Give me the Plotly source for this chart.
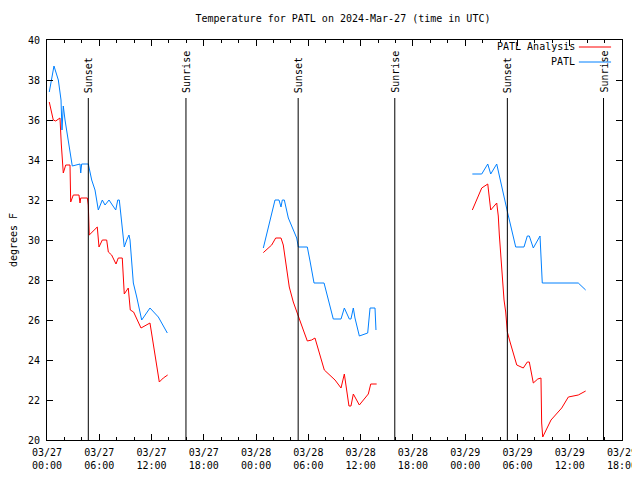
import pandas as pd
import plotly.graph_objects as go

BASE = pd.Timestamp("2024-03-27 00:00")

# Hours after 03/27 00:00 UTC and temperatures (°F); None separates gaps
analysis_hours = [0.26, 0.72, 1.0, 1.49, 1.64, 1.87, 2.15, 2.64, 2.72, 3.02, 3.67, 3.79, 3.87, 4.63, 4.74, 4.85,
                  5.77, 5.97, 6.35, 6.85, 7.04, 7.42, 7.92, 8.18, 8.64, 8.87, 9.33, 9.56, 9.94, 10.79, 11.82,
                  12.01, 12.58, 12.89, 13.35, 13.85,
                  None,
                  24.83, 25.79, 26.25, 26.86, 27.12, 27.43, 27.81, 28.27, 28.85, 29.42, 29.88, 30.38, 30.76,
                  31.14, 31.83, 33.06, 33.75, 34.13, 34.32, 34.66, 34.89, 35.16, 35.85, 36.88, 37.16, 37.84,
                  None,
                  48.82, 49.90, 50.59, 50.93, 51.62, 51.80, 51.92, 52.08, 52.26, 52.46, 52.65, 52.77, 52.84,
                  53.15, 53.53, 53.92, 54.67, 55.13, 55.36, 55.82, 56.33, 56.70, 56.78, 56.90, 57.85, 59.08,
                  59.84, 60.98, 61.83]
analysis_temps = [36.9, 36.0, 35.95, 36.1, 34.8, 33.35, 33.75, 33.75, 31.9, 32.25, 32.25, 31.85, 32.1, 32.1, 31.75, 30.25,
                  30.65, 29.65, 30.0, 30.0, 29.4, 29.25, 28.8, 29.1, 29.1, 27.3, 27.6, 26.5, 26.4, 25.6, 25.85,
                  25.35, 23.65, 22.9, 23.1, 23.25,
                  None,
                  29.37, 29.75, 30.1, 30.1, 29.75, 28.75, 27.65, 26.9, 26.15, 25.5, 24.95, 25.0, 25.1,
                  24.5, 23.5, 23.0, 22.6, 23.3, 22.8, 21.7, 21.7, 22.3, 21.75, 22.3, 22.8, 22.8,
                  None,
                  31.5, 32.6, 32.8, 31.5, 31.85, 31.2, 30.25, 29.2, 28.1, 27.0, 26.4, 25.8, 25.4,
                  24.9, 24.3, 23.75, 23.6, 23.9, 23.9, 22.85, 23.05, 23.1, 20.85, 20.15, 21.0, 21.6,
                  22.15, 22.25, 22.45]

obs_hours = [0.26, 0.80, 1.30, 1.61, 1.72, 1.87, 2.07, 2.64, 2.90, 3.79, 3.87, 3.98, 4.74, 5.13, 5.51, 5.89,
             6.08, 6.35, 6.66, 7.12, 7.50, 7.89, 8.12, 8.30, 8.46, 8.64, 8.87, 9.15, 9.41, 9.53, 9.72, 9.91,
             10.30, 10.56, 10.87, 11.82, 12.78, 13.81,
             None,
             24.83, 25.40, 26.17, 26.63, 26.86, 27.01, 27.24, 27.70, 28.09, 28.66, 28.85, 29.88, 30.19, 30.65,
             31.80, 32.22, 32.86, 33.75, 34.13, 34.70, 34.89, 35.16, 35.35, 35.85, 36.81, 37.08, 37.65, 37.76,
             None,
             48.82, 49.90, 50.59, 50.93, 51.62, 52.19, 52.88, 53.80, 54.75, 55.13, 55.36, 55.82, 56.59, 56.85,
             60.98, 61.83]
obs_temps = [37.4, 38.7, 38.0, 37.0, 35.5, 36.7, 36.0, 34.35, 33.7, 33.8, 33.35, 33.8, 33.8, 33.0, 32.5, 31.5,
             31.75, 32.0, 31.75, 32.0, 31.75, 31.5, 32.0, 32.0, 31.35, 30.5, 29.65, 30.0, 30.25, 30.0, 28.85, 27.85,
             27.15, 26.65, 26.0, 26.6, 26.15, 25.35,
             None,
             29.6, 30.65, 32.0, 32.0, 31.65, 32.0, 32.0, 31.1, 30.7, 30.1, 29.65, 29.65, 28.95, 27.85,
             27.85, 27.15, 26.05, 26.05, 26.6, 26.05, 26.05, 26.6, 26.1, 25.2, 25.35, 26.6, 26.6, 25.5,
             None,
             33.3, 33.3, 33.8, 33.3, 33.8, 32.65, 31.35, 29.65, 29.65, 30.2, 30.2, 29.6, 30.2, 27.85,
             27.85, 27.5]

event_hours = [4.74, 15.95, 28.83, 39.92, 52.84, 63.88]
event_labels = ["Sunset", "Sunrise", "Sunset", "Sunrise", "Sunset", "Sunrise"]
event_top = 37.1

series_names = ["PATL Analysis", "PATL"]
series_colors = ["#ff0000", "#0080ff"]

def to_time(hours):
    return [None if h is None else BASE + pd.Timedelta(hours=h) for h in hours]

FONT = "DejaVu Sans Mono"
FS = 10
fig = go.Figure()
fig.add_trace(go.Scatter(x=to_time(analysis_hours), y=analysis_temps, mode="lines",
                         line=dict(color=series_colors[0], width=1), name=series_names[0],
                         connectgaps=False, showlegend=False))
fig.add_trace(go.Scatter(x=to_time(obs_hours), y=obs_temps, mode="lines",
                         line=dict(color=series_colors[1], width=1), name=series_names[1],
                         connectgaps=False, showlegend=False))

for h, lab in zip(event_hours, event_labels):
    t = BASE + pd.Timedelta(hours=h)
    fig.add_shape(type="line", xref="x", yref="y", x0=t, x1=t, y0=20, y1=event_top,
                  line=dict(color="black", width=1))
    fig.add_annotation(x=t, y=event_top, xref="x", yref="y", text=lab, textangle=-90,
                       showarrow=False, xanchor="center", yanchor="bottom", yshift=3,
                       font=dict(family=FONT, size=FS, color="black"))

# custom legend (text right-aligned, sample to the right)
for i, (name, col) in enumerate(zip(series_names, series_colors)):
    yy = 0.9825 - i * 0.0375
    fig.add_annotation(x=0.921, y=yy, xref="paper", yref="paper", text=name, showarrow=False,
                       xanchor="right", yanchor="middle", font=dict(family=FONT, size=FS, color="black"))
    fig.add_shape(type="line", xref="paper", yref="paper", x0=0.925, x1=0.981, y0=yy, y1=yy,
                  line=dict(color=col, width=1))

# the page body adds an 8px margin; size the figure so the plot box lands at 47..622 x 40..440
fig.update_layout(
    width=632, height=472,
    margin=dict(l=39, r=18, t=32, b=40),
    paper_bgcolor="white", plot_bgcolor="white",
    title=dict(text="Temperature for PATL on 2024-Mar-27 (time in UTC)", x=0.53, xanchor="center",
               y=0.977, yanchor="middle", yref="container", automargin=False,
               font=dict(family=FONT, size=FS, color="black")),
    font=dict(family=FONT, size=FS, color="black"),
    showlegend=False,
)
fig.update_xaxes(type="date", range=[BASE, BASE + pd.Timedelta(hours=66)], automargin=False,
                 tick0=BASE, dtick=6 * 3600 * 1000, tickformat="%m/%d<br>%H:%M",
                 ticks="inside", ticklen=6, tickcolor="black", showline=True, linecolor="black",
                 linewidth=1, mirror="allticks", showgrid=False, zeroline=False, ticklabelstandoff=3,
                 minor=dict(ticks="inside", dtick=2 * 3600 * 1000, ticklen=3, tickcolor="black", showgrid=False),
                 tickfont=dict(family=FONT, size=FS))
fig.update_yaxes(range=[20, 40], dtick=2, ticks="inside", ticklen=6, tickcolor="black", automargin=False,
                 showline=True, linecolor="black", linewidth=1, mirror="allticks", showgrid=False,
                 zeroline=False, ticklabelstandoff=4,
                 title=dict(text="degrees F", font=dict(family=FONT, size=FS), standoff=10),
                 tickfont=dict(family=FONT, size=FS))

fig.write_html("out.html")
